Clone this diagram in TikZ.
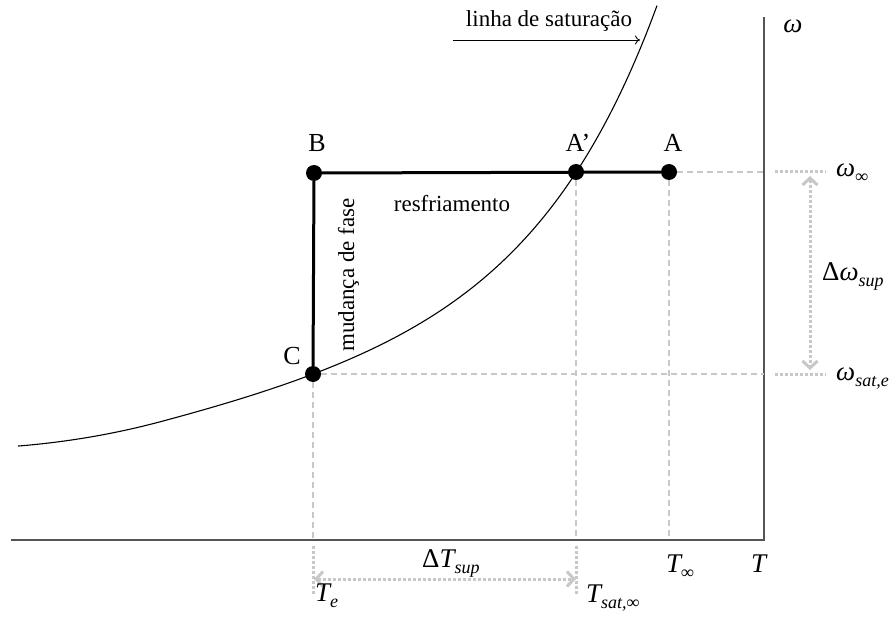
\documentclass[tikz,border=0pt]{standalone}
\usepackage{fontspec}
\setmainfont{Liberation Serif}
\usetikzlibrary{arrows.meta}
\definecolor{axisgray}{RGB}{85,85,85}
\definecolor{lightg}{RGB}{200,200,200}
\newcommand\lsub[1]{\raisebox{-6pt}{\fontsize{18}{18}\selectfont\itshape #1}}
\tikzset{
  txt/.style={font=\fontsize{23}{27}\selectfont, inner sep=0pt},
  ptlabel/.style={font=\fontsize{26}{30}\selectfont, inner sep=0pt, anchor=base},
  axlabel/.style={font=\fontsize{27}{31}\selectfont, inner sep=0pt, anchor=base west},
  dotpt/.style={circle, fill=black, inner sep=0pt, minimum size=16pt},
  thickln/.style={line width=3pt, black},
  axisln/.style={line width=1.5pt, draw=axisgray},
  dashln/.style={line width=1.5pt, draw=lightg, dash pattern=on 6pt off 4pt},
  dotln/.style={line width=3pt, draw=lightg, dash pattern=on 3pt off 2pt},
  dimarrow/.style={dotln, {Straight Barb[length=7pt,width=15pt,line width=3pt]}-{Straight Barb[length=7pt,width=15pt,line width=3pt]}},
}
\begin{document}
\begin{tikzpicture}[x=1pt,y=-1pt]
\useasboundingbox (0,0) rectangle (893,617);
% axes
\coordinate (O) at (764,540);
\coordinate (xend) at (11,540);
\coordinate (yend) at (764,17);
\draw[axisln] (xend) -- (O) -- (yend);
% points
\node[dotpt] (A) at (669,172) {};
\node[dotpt] (Ap) at (576,172) {};
\node[dotpt] (B) at (314,173) {};
\node[dotpt] (C) at (313,374) {};
% guide coordinates
\coordinate (Ar) at (764,172);
\coordinate (Cr) at (764,374);
\coordinate (Ad) at (669,540);
\coordinate (Apd) at (576,540);
\coordinate (Cd) at (313,540);
\draw[dashln] (A) -- (Ar);
\draw[dashln] (C) -- (Cr);
\draw[dashln] (A) -- (Ad);
\draw[dashln] (Ap) -- (Apd);
\draw[dashln] (C) -- (Cd);
\coordinate (d1a) at (775,172); \coordinate (d1b) at (826,172);
\coordinate (d2a) at (775,374); \coordinate (d2b) at (826,374);
\coordinate (d3a) at (576,546); \coordinate (d3b) at (576,594);
\coordinate (d4a) at (313,546); \coordinate (d4b) at (313,594);
\draw[dotln] (d1a) -- (d1b);
\draw[dotln] (d2a) -- (d2b);
\draw[dotln] (d3a) -- (d3b);
\draw[dotln] (d4a) -- (d4b);
% dimension arrows
\coordinate (w1) at (810,176); \coordinate (w2) at (810,370);
\draw[dimarrow] (w1) -- (w2);
\coordinate (t1) at (314,579); \coordinate (t2) at (576,579);
\draw[dimarrow] (t1) -- (t2);
% saturation curve
\draw[line width=1.1pt] plot[domain=18:657, samples=120, smooth] (\x, {540-(77.1+0.22*\x+1.636*exp(0.008*\x)) - 11*max(0,(160-\x)/142)^2});
% process lines
\draw[thickln] (C) -- (B) -- (A);
% labels
\node[ptlabel] (lB) at (317,152) {B};
\node[ptlabel] (lAp) at (578,152) {A’};
\node[ptlabel] (lA) at (673,152) {A};
\node[ptlabel] (lC) at (292,364) {C};
\node[txt, anchor=base] (res) at (452,212) {resfriamento};
\node[txt, rotate=90, anchor=base] (mud) at (354,275) {mudança de fase};
\node[txt, anchor=base] (sat) at (549,27) {linha de saturação};
\coordinate (sa1) at (453,40); \coordinate (sa2) at (640,40);
\draw[line width=0.9pt, -{To[length=5pt,width=9pt]}] (sa1) -- (sa2);
% axis labels
\node[axlabel, anchor=base] (lw) at (793,33) {\itshape ω};
\node[axlabel] (lwinf) at (836,177) {\itshape ω\lsub{∞}};
\node[axlabel] (ldw) at (822,280) {Δ\itshape ω\lsub{sup}};
\node[axlabel] (lwsat) at (836,380) {\itshape ω\lsub{sat,e}};
\node[axlabel] (lTe) at (315,601) {\itshape T\lsub{e}};
\node[axlabel] (lTsat) at (586,602) {\itshape T\lsub{sat,∞}};
\node[axlabel] (lTinf) at (666,572) {\itshape T\lsub{∞}};
\node[axlabel] (lT) at (751,572) {\itshape T};
\node[axlabel] (ldT) at (422,567) {Δ\itshape T\lsub{sup}};
\end{tikzpicture}
\end{document}
